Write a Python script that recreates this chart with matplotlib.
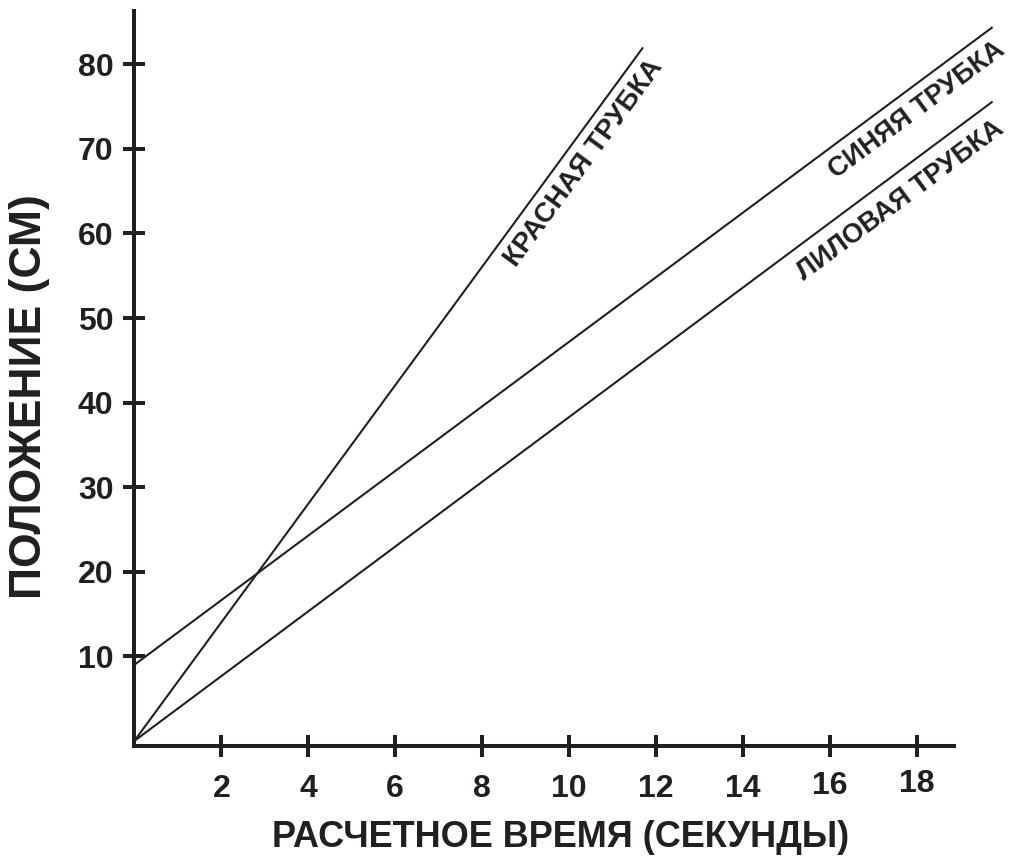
import numpy as np
import matplotlib
matplotlib.use('Agg')
import matplotlib.pyplot as plt
from matplotlib import rc
from matplotlib.transforms import ScaledTranslation

rc('font', family=['Liberation Sans', 'DejaVu Sans'], weight='bold')
ink = '#231f20'

# lines: (time s, position cm)
red_t = [0, 11.7]
red_y = [0, 82.0]
blue_t = [0, 19.74]
blue_y = [9.0, 84.4]
lilac_t = [0, 19.74]
lilac_y = [0, 75.6]

xticks = [2, 4, 6, 8, 10, 12, 14, 16, 18]
yticks = [10, 20, 30, 40, 50, 60, 70, 80]

fig = plt.figure(figsize=(10.10, 8.56), dpi=100)
ax = fig.add_axes([0.133, 0.1285, 0.861, 0.8586])

for t, y in [(red_t, red_y), (blue_t, blue_y), (lilac_t, lilac_y)]:
    ax.plot(t, y, color=ink, lw=1.5, clip_on=False, solid_capstyle='butt')

ax.set_xlim(0, 20)
ax.set_ylim(-0.6, 86.3)
for s in ['top', 'right']:
    ax.spines[s].set_visible(False)
for s in ['left', 'bottom']:
    ax.spines[s].set_linewidth(2.9)
    ax.spines[s].set_color(ink)
ax.spines['bottom'].set_bounds(0, 18.85)
ax.spines['left'].set_bounds(-0.6, 86.3)

ax.set_xticks(xticks)
ax.set_yticks(yticks)
ax.set_xticklabels([str(v) for v in xticks])
ax.set_yticklabels([str(v) for v in yticks])
ax.tick_params(axis='both', direction='inout', length=16, width=2.9,
               color=ink, labelsize=23, labelcolor=ink)
ax.tick_params(axis='x', pad=12)
ax.tick_params(axis='y', pad=7)

ax.set_xlabel('РАСЧЕТНОЕ ВРЕМЯ (СЕКУНДЫ)', fontsize=26, color=ink,
              fontweight='bold')
ax.set_ylabel('ПОЛОЖЕНИЕ (СМ)', fontsize=32, color=ink,
              fontweight='bold')
ax.xaxis.set_label_coords(0.49, -0.100)
ax.yaxis.set_label_coords(-0.097, 0.476)

# the last two x labels sit a little higher in the original
for lab, dy in zip(ax.get_xticklabels()[-2:], [3, 5]):
    lab.set_transform(lab.get_transform() +
                      ScaledTranslation(0, dy / 100, fig.dpi_scale_trans))

ax.text(10.35, 68.3, 'КРАСНАЯ ТРУБКА', rotation=53.8, fontsize=20,
        color=ink, ha='center', va='center', rotation_mode='anchor')
ax.text(18.0, 74.6, 'СИНЯЯ ТРУБКА', rotation=36.6, fontsize=19.5,
        color=ink, ha='center', va='center', rotation_mode='anchor')
ax.text(17.62, 63.9, 'ЛИЛОВАЯ ТРУБКА', rotation=36.6, fontsize=19.5,
        color=ink, ha='center', va='center', rotation_mode='anchor')

plt.savefig('out.png', dpi=100)
